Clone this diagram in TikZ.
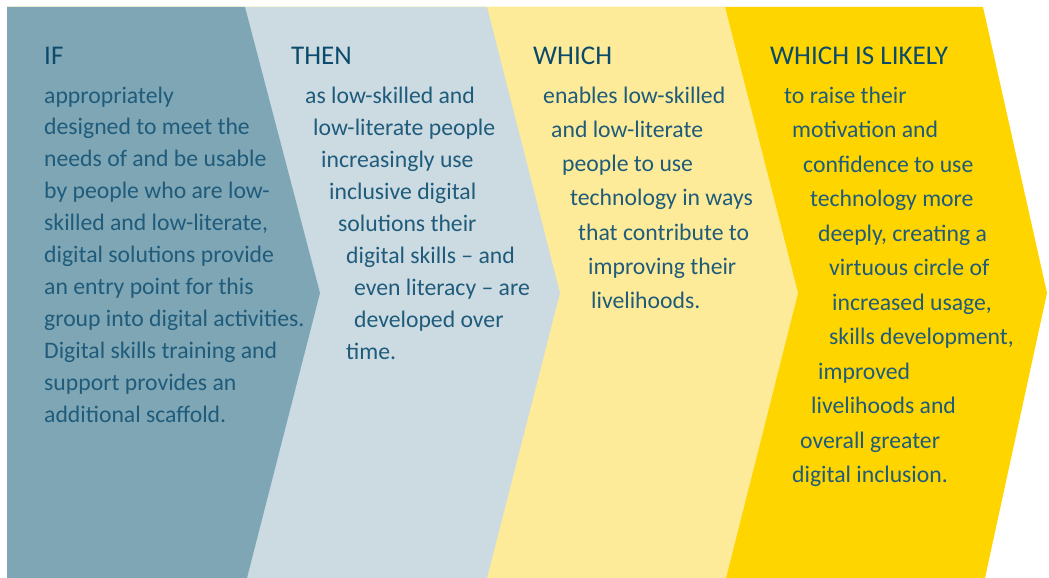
\documentclass[tikz,border=0pt]{standalone}
\usepackage{fontspec}
\setmainfont{Carlito}

\definecolor{bandif}{HTML}{7FA6B5}
\definecolor{bandthen}{HTML}{CCDBE2}
\definecolor{bandwhich}{HTML}{FEEB99}
\definecolor{bandlikely}{HTML}{FFD500}
\definecolor{headblue}{HTML}{0B4A6B}
\definecolor{textblue}{HTML}{1F5B7A}

\tikzset{
  head/.style={anchor=base west,inner sep=0pt,text=headblue,font=\fontsize{27}{32}\selectfont},
  body/.style={anchor=base west,inner sep=0pt,text=textblue,font=\fontsize{23.7}{32}\selectfont}
}

\begin{document}
\begin{tikzpicture}[x=1pt,y=-1pt]

      \useasboundingbox (0,0) rectangle (1049,578);

      % chevrons, drawn from the right so each one covers the next
      \fill[bandlikely] (7,7) -- (983,7) -- (1047,293) -- (985,578) -- (7,578) -- cycle;
      \fill[bandwhich]  (7,7) -- (725,7) -- (798,293) -- (726,578) -- (7,578) -- cycle;
      \fill[bandthen]   (7,7) -- (487,7) -- (560,293) -- (487,578) -- (7,578) -- cycle;
      \fill[bandif]     (7,7) -- (245,7) -- (320,293) -- (247,578) -- (7,578) -- cycle;

      \begin{scope}[every node/.style={head}]
        \node (if)     at (44,65)  {IF};
        \node (then)   at (291,65) {THEN};
        \node (which)  at (533,65) {WHICH};
        \node (likely) at (770,65) {WHICH IS LIKELY};
      \end{scope}

      \begin{scope}[every node/.style={body}]
        \foreach \x/\t [count=\i] in {
            44/appropriately,
            44/designed to meet the,
            44/needs of and be usable,
            44/by people who are low-,
            44/{skilled and low-literate,},
            44/digital solutions provide,
            44/an entry point for this,
            44/group into digital activities.,
            44/Digital skills training and,
            44/support provides an,
            44/additional scaffold.}
          \node (if-\i) at (\x,{103+31.9*(\i-1)}) {\t};

        \foreach \x/\t [count=\i] in {
            305/as low-skilled and,
            313/low-literate people,
            321/increasingly use,
            329/inclusive digital,
            338/solutions their,
            346/digital skills -- and,
            354/even literacy -- are,
            354/developed over,
            346/time.}
          \node (then-\i) at (\x,{103+32*(\i-1)}) {\t};

        \foreach \x/\t [count=\i] in {
            543/enables low-skilled,
            551/and low-literate,
            562/people to use,
            570/technology in ways,
            578/that contribute to,
            588/improving their,
            591/livelihoods.}
          \node (which-\i) at (\x,{103+34.3*(\i-1)}) {\t};

        \foreach \x/\t [count=\i] in {
            784/to raise their,
            792/motivation and,
            803/confidence to use,
            810/technology more,
            818/{deeply, creating a},
            829/virtuous circle of,
            832/{increased usage,},
            829/{skills development,},
            818/improved,
            811/livelihoods and,
            800/overall greater,
            792/digital inclusion.}
          \node (likely-\i) at (\x,{103+34.5*(\i-1)}) {\t};
      \end{scope}

    \end{tikzpicture}
\end{document}
